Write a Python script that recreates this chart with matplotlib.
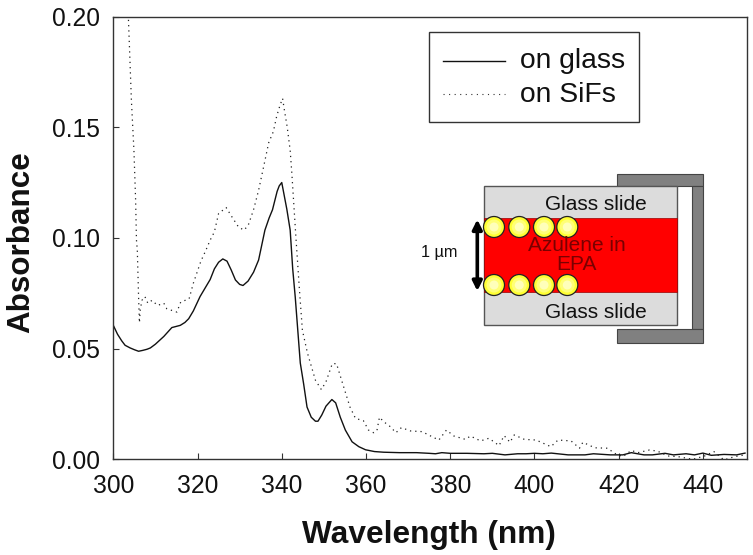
import matplotlib
matplotlib.use("Agg")
import matplotlib.pyplot as plt
from matplotlib.patches import Rectangle, Circle, FancyArrowPatch
from matplotlib.lines import Line2D

plt.rcParams['font.family'] = ['Liberation Sans', 'DejaVu Sans']

W, H = 753, 555

glass_x = [300, 301, 302, 302.8, 304, 305, 306, 307, 308, 308.8, 310, 312, 313.9, 315.9, 317, 317.9,
           319, 320.6, 322, 323, 324, 325, 326, 327, 328, 329, 330, 330.8, 332, 333.3, 334.5, 336,
           337, 337.8, 338.9, 339.4, 340, 340.6, 341.2, 342, 342.6, 343.2, 344.4, 345.2, 346, 347,
           348, 348.6, 349.5, 350.5, 351.9, 352.8, 353.9, 355.1, 356.7, 358.3, 359.9, 362, 364.2,
           368, 372, 375, 376.5, 378, 380, 384, 388, 390, 393, 396, 398, 400, 402, 404, 408, 412,
           414, 418, 421, 423, 426, 428, 431, 433, 436, 438, 440, 442, 445, 448, 450]
glass_y = [.0605, .0565, .0535, .0515, .0503, .0495, .0488, .0492, .0497, .0503, .0520, .0555,
           .0595, .0605, .0618, .0635, .0670, .0735, .0780, .0812, .0860, .0890, .0905, .0895,
           .0855, .0810, .0790, .0785, .0805, .0845, .0900, .1035, .1090, .1127, .1210, .1235,
           .1250, .1190, .1130, .1035, .0860, .0733, .0435, .0340, .0236, .0190, .0172, .0172,
           .0200, .0240, .0270, .0255, .0190, .0132, .0079, .0057, .0043, .0035, .0032,
           .0030, .0030, .0027, .0025, .0030, .0027, .0027, .0025, .0027, .0020, .0025, .0025,
           .0027, .0025, .0028, .0020, .0020, .0025, .0020, .0020, .0030, .0020, .0020, .0027,
           .0020, .0025, .0020, .0028, .0018, .0022, .0020, .0028]

sifs_x = [303.6, 304.3, 304.9, 305.3, 305.5, 305.7, 306.0, 306.2, 306.4, 306.8, 307.5, 308.2, 309.2,
          310.5, 312, 312.7, 315.1, 316, 318, 319, 320.8, 322, 323, 324, 325, 326, 326.8, 328,
          329.7, 331, 332, 333.3, 334.5, 335.7, 336.9, 338, 338.8, 339.6, 340.2, 340.6, 341.3,
          342, 342.4, 342.9, 343.3, 344.2, 344.9, 346.1, 348, 349.4, 350.5, 352, 353, 354.7,
          356.2, 357.5, 359.4, 360.6, 361.8, 362.6, 363.2, 364.2, 365.8, 367.1, 368.4, 370.6,
          373.3, 375.7, 377.3, 379.1, 380.9, 383.6, 384.8, 387.2, 389.2, 391.6, 392.8, 394.2,
          395.2, 397.6, 400.4, 403.9, 405.6, 408.7, 410.7, 411.5, 414.3, 417.4, 419, 421, 423,
          424.6, 427.3, 429.2, 431.7, 434.1, 437.6, 440.4, 442.6, 445, 447.5, 450]
sifs_y = [.1985, .1620, .1395, .1170, .0990, .0945, .0735, .0617, .0675, .0718, .0735, .0705, .0718,
          .0695, .0705, .0680, .0665, .0710, .0725, .0795, .0895, .0945, .0990, .1027, .1110,
          .1125, .1137, .1100, .1050, .1035, .1055, .1127, .1215, .1322, .1430, .1480, .1550,
          .1600, .1630, .1580, .1500, .1395, .1290, .1140, .1020, .0765, .0583, .0480, .0357,
          .0315, .0350, .0432, .0432, .0327, .0236, .0185, .0174, .0132, .0120, .0130, .0190,
          .0170, .0147, .0120, .0143, .0128, .0125, .0102, .0087, .0132, .0105, .0090, .0105,
          .0083, .0095, .0062, .0107, .0077, .0110, .0090, .0087, .0057, .0087, .0083, .0050,
          .0077, .0052, .0050, .0027, .0012, .0040, .0030, .0042, .0037, .0015, .0012, .0000,
          .0015, .0035, -.0003, .0012, .0020]

x_ticks = [300, 320, 340, 360, 380, 400, 420, 440]
y_ticks = [0.00, 0.05, 0.10, 0.15, 0.20]
series_labels = ["on glass", "on SiFs"]

fig = plt.figure(figsize=(W / 100, H / 100), dpi=100, facecolor='white')
left, right, top, bottom = 113.3, 746.7, 16.5, 459.3
ax = fig.add_axes([left / W, 1 - bottom / H, (right - left) / W, (bottom - top) / H])

ax.plot(glass_x, glass_y, color='#111111', lw=1.0, solid_joinstyle='round')
ax.plot(sifs_x, sifs_y, color='#222222', lw=0.9, linestyle=(0, (1, 3.2)))

ax.set_xlim(300, 450.4)
ax.set_ylim(0, 0.2)
ax.set_xticks(x_ticks)
ax.set_yticks(y_ticks)
ax.set_yticklabels([f"{v:.2f}" for v in y_ticks])
ax.tick_params(direction='in', length=4.5, width=0.8, labelsize=17.7, color='#333333', labelcolor='#111111')
ax.tick_params(axis='x', pad=10.5)
ax.tick_params(axis='y', pad=9.5)
for s in ax.spines.values():
    s.set_linewidth(1.0)
    s.set_color('#333333')

fig.text(429 / W, 1 - 535.5 / H, "Wavelength (nm)", fontsize=22.8, fontweight='bold',
         ha='center', va='center', color='#111111')
fig.text(21 / W, 1 - 242 / H, "Absorbance", fontsize=22.6, fontweight='bold', rotation=90,
         ha='center', va='center', color='#111111')

# Overlay in pixel coordinates for the legend and the diagram
ov = fig.add_axes([0, 0, 1, 1], facecolor='none')
ov.set_xlim(0, W)
ov.set_ylim(H, 0)
ov.axis('off')

# Legend
ov.add_patch(Rectangle((429, 32), 210, 90, fc='white', ec='#333333', lw=1.0))
ov.add_line(Line2D([442.7, 505], [60.7, 60.7], color='#111111', lw=1.0))
ov.add_line(Line2D([442.7, 505], [94, 94], color='#333333', lw=0.8, linestyle=(0, (1, 4))))
ov.text(520, 61.5, series_labels[0], fontsize=20.3, va='center', ha='left', color='#111111')
ov.text(520, 95.5, series_labels[1], fontsize=20.3, va='center', ha='left', color='#111111')

# Diagram
dark = '#808080'
edge = '#444444'
ov.add_patch(Rectangle((616.7, 174), 86, 12, fc=dark, ec=edge, lw=0.8))
ov.add_patch(Rectangle((691.7, 186), 11, 143.3, fc=dark, ec=edge, lw=0.8))
ov.add_patch(Rectangle((616.7, 329.3), 86, 13.4, fc=dark, ec=edge, lw=0.8))
ov.add_patch(Rectangle((484, 186), 193.3, 139, fc='#dcdcdc', ec='#555555', lw=1.0))
ov.add_patch(Rectangle((484.5, 218.3), 192.5, 73.4, fc='#ff0000', ec='#990000', lw=0.5))
for cy in (227, 285):
    for cx in (494, 519.3, 544, 567.3):
        ov.add_patch(Circle((cx, cy), 10.5, fc='#ffff33', ec='#222222', lw=0.9, zorder=3))
        ov.add_patch(Circle((cx, cy), 7.5, fc='#ffff77', ec='none', zorder=4))
        ov.add_patch(Circle((cx, cy), 4.5, fc='#ffffbb', ec='none', zorder=5))
ov.add_patch(FancyArrowPatch((477.3, 219.5), (477.3, 291), arrowstyle='<|-|>', mutation_scale=14,
                             lw=2.6, color='black', shrinkA=0, shrinkB=0, zorder=4))
ov.text(439.5, 253, "1 µm", fontsize=11.8, ha='center', va='center', color='#111111')
ov.text(596, 205, "Glass slide", fontsize=15, ha='center', va='center', color='#111111')
ov.text(596, 312, "Glass slide", fontsize=15, ha='center', va='center', color='#111111')
ov.text(576.5, 245.5, "Azulene in", fontsize=15, ha='center', va='center', color='#7a0000', zorder=6)
ov.text(576.5, 265, "EPA", fontsize=15, ha='center', va='center', color='#7a0000', zorder=6)

fig.savefig('out.png', dpi=100, facecolor='white')
